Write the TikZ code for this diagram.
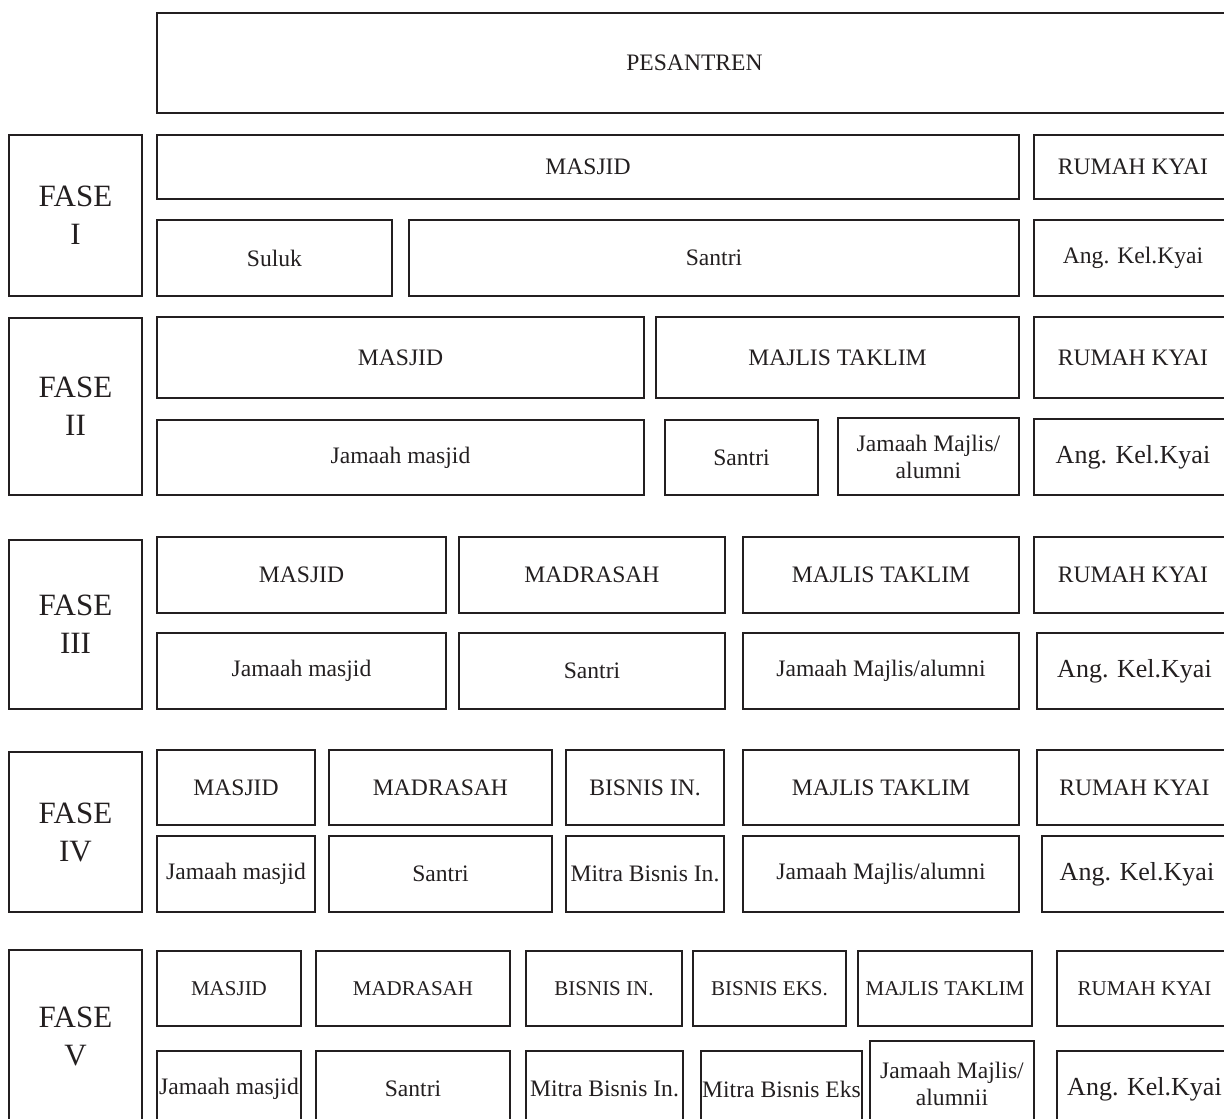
\documentclass[tikz,border=0pt]{standalone}
\usepackage{fontspec}
\setmainfont{Liberation Serif}
\definecolor{tinta}{RGB}{35,31,32}

\begin{document}
\begin{tikzpicture}[x=1pt,y=-1pt]
\tikzstyle{every node}=[draw=tinta, line width=2.5pt, text=tinta, inner sep=0pt, align=center, font=\fontsize{23.6}{27}\selectfont]
\tikzstyle{fase}=[font=\fontsize{31}{38}\selectfont, minimum width=133pt]
\tikzstyle{besar}=[font=\fontsize{26}{30}\selectfont]
\tikzstyle{kecil}=[font=\fontsize{21}{25}\selectfont]
\useasboundingbox (0,0) rectangle (1224,1119);
\clip (0,0) rectangle (1224,1119);
% pesantren
\node (p) at (694.5,63) [minimum width=1075pt, minimum height=100pt] {PESANTREN};
% fase I
\node (f1) at (75.5,215.5) [fase, minimum height=161pt] {FASE\\I};
\node (m1) at (588,167) [minimum width=862pt, minimum height=64pt] {MASJID};
\node (r1) at (1133,167) [minimum width=198pt, minimum height=64pt] {RUMAH KYAI};
\node (sl1) at (274.5,258) [minimum width=235pt, minimum height=76pt] {Suluk};
\node (s1) at (714,258) [minimum width=610pt, minimum height=76pt] {Santri};
\node (k1) at (1133,258) [minimum width=198pt, minimum height=76pt] {Ang. Kel.Kyai};
% fase II
\node (f2) at (75.5,406.5) [fase, minimum height=177pt] {FASE\\II};
\node (m2) at (400.5,357.5) [minimum width=487pt, minimum height=81pt] {MASJID};
\node (t2) at (837.5,357.5) [minimum width=363pt, minimum height=81pt] {MAJLIS TAKLIM};
\node (r2) at (1133,357.5) [minimum width=198pt, minimum height=81pt] {RUMAH KYAI};
\node (jm2) at (400.5,457.5) [minimum width=487pt, minimum height=75pt] {Jamaah masjid};
\node (s2) at (741.5,457.5) [minimum width=153pt, minimum height=75pt] {Santri};
\node (jt2) at (928.5,456.5) [minimum width=181pt, minimum height=77pt] {Jamaah Majlis/\\alumni};
\node (k2) at (1133,457) [besar, minimum width=198pt, minimum height=76pt] {Ang. Kel.Kyai};
% fase III
\node (f3) at (75.5,624.5) [fase, minimum height=169pt] {FASE\\III};
\node (m3) at (301.5,575) [minimum width=289pt, minimum height=76pt] {MASJID};
\node (d3) at (592,575) [minimum width=266pt, minimum height=76pt] {MADRASAH};
\node (t3) at (881,575) [minimum width=276pt, minimum height=76pt] {MAJLIS TAKLIM};
\node (r3) at (1133,575) [minimum width=198pt, minimum height=76pt] {RUMAH KYAI};
\node (jm3) at (301.5,671) [minimum width=289pt, minimum height=76pt] {Jamaah masjid};
\node (s3) at (592,671) [minimum width=266pt, minimum height=76pt] {Santri};
\node (jt3) at (881,671) [minimum width=276pt, minimum height=76pt] {Jamaah Majlis/alumni};
\node (k3) at (1134.5,671) [besar, minimum width=195pt, minimum height=76pt] {Ang. Kel.Kyai};
% fase IV
\node (f4) at (75.5,832) [fase, minimum height=160pt] {FASE\\IV};
\node (m4) at (236,787.5) [minimum width=158pt, minimum height=75pt] {MASJID};
\node (d4) at (440.5,787.5) [minimum width=223pt, minimum height=75pt] {MADRASAH};
\node (b4) at (645,787.5) [minimum width=158pt, minimum height=75pt] {BISNIS IN.};
\node (t4) at (881,787.5) [minimum width=276pt, minimum height=75pt] {MAJLIS TAKLIM};
\node (r4) at (1134.5,787.5) [minimum width=195pt, minimum height=75pt] {RUMAH KYAI};
\node (jm4) at (236,874) [minimum width=158pt, minimum height=76pt] {Jamaah masjid};
\node (s4) at (440.5,874) [minimum width=223pt, minimum height=76pt] {Santri};
\node (mb4) at (645,874) [minimum width=158pt, minimum height=76pt] {Mitra Bisnis In.};
\node (jt4) at (881,874) [minimum width=276pt, minimum height=76pt] {Jamaah Majlis/alumni};
\node (k4) at (1137,874) [besar, minimum width=190pt, minimum height=76pt] {Ang. Kel.Kyai};
% fase V
\node (f5) at (75.5,1036) [fase, minimum height=172pt] {FASE\\V};
\node (m5) at (229,988.5) [kecil, minimum width=144pt, minimum height=75pt] {MASJID};
\node (d5) at (413,988.5) [kecil, minimum width=194pt, minimum height=75pt] {MADRASAH};
\node (b5) at (604,988.5) [kecil, minimum width=156pt, minimum height=75pt] {BISNIS IN.};
\node (e5) at (769.5,988.5) [kecil, minimum width=153pt, minimum height=75pt] {BISNIS EKS.};
\node (t5) at (945,988.5) [kecil, minimum width=174pt, minimum height=75pt] {MAJLIS TAKLIM};
\node (r5) at (1144.5,988.5) [kecil, minimum width=175pt, minimum height=75pt] {RUMAH KYAI};
\node (jm5) at (229,1089) [minimum width=144pt, minimum height=76pt] {Jamaah masjid};
\node (s5) at (413,1089) [minimum width=194pt, minimum height=76pt] {Santri};
\node (mb5) at (604.5,1089) [minimum width=157pt, minimum height=76pt] {Mitra Bisnis In.};
\node (me5) at (781.5,1089) [minimum width=161pt, minimum height=76pt] {Mitra Bisnis Eks};
\node (jt5) at (952,1084) [minimum width=164pt, minimum height=86pt] {Jamaah Majlis/\\alumnii};
\node (k5) at (1144.5,1089) [besar, minimum width=175pt, minimum height=76pt] {Ang. Kel.Kyai};
\end{tikzpicture}
\end{document}
